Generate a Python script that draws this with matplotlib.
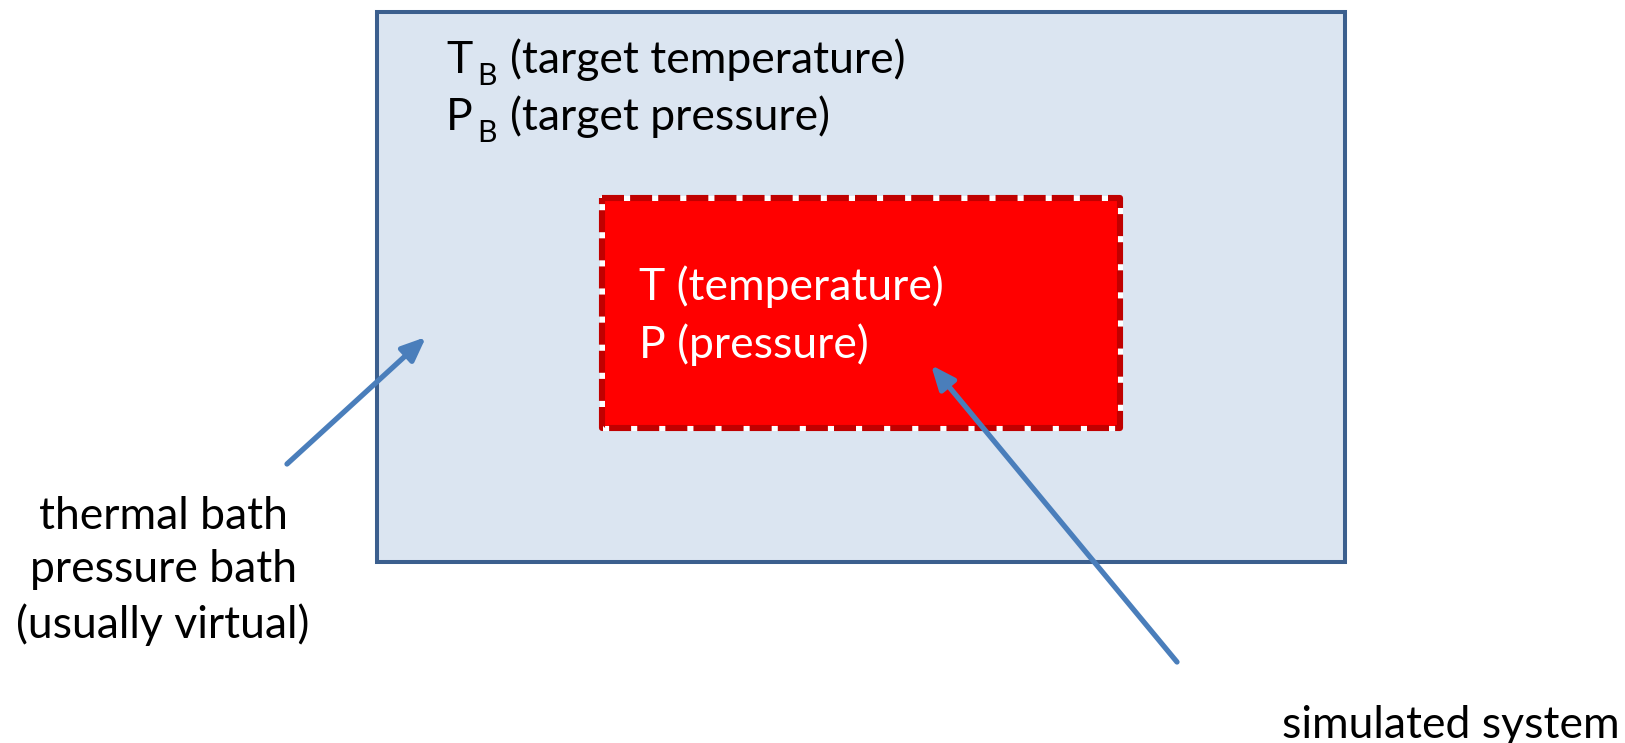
import matplotlib.pyplot as plt
from matplotlib.patches import Rectangle

plt.rcParams['font.family'] = ['Lato', 'DejaVu Sans']

# labels of the diagram
bath_symbols = ['T', 'P']
bath_names = ['(target temperature)', '(target pressure)']
bath_sub = 'B'
system_labels = ['T (temperature)', 'P (pressure)']
bath_caption = 'thermal bath\npressure bath\n(usually virtual)'
system_caption = 'simulated system'

W, H = 1625, 743
fig = plt.figure(figsize=(W / 100, H / 100), dpi=100)
ax = fig.add_axes([0, 0, 1, 1])
ax.set_xlim(0, W)
ax.set_ylim(H, 0)
ax.axis('off')

blue_edge = '#3B5F8E'
blue_fill = '#DBE5F1'
arrow_col = '#4A7EBB'

# outer bath box
ax.add_patch(Rectangle((377, 12), 968, 550, facecolor=blue_fill,
                       edgecolor=blue_edge, lw=2.9, joinstyle='miter'))

# inner system box: white under-line then dashed dark red
ax.add_patch(Rectangle((602, 198), 518, 230, facecolor='#FF0000',
                       edgecolor='white', lw=3.6, joinstyle='round'))
ax.add_patch(Rectangle((602, 198), 518, 230, facecolor='none',
                       edgecolor='#C00000', lw=4.4, joinstyle='round',
                       linestyle=(0, (3.6, 1.0))))

fs = 32
renderer = fig.canvas.get_renderer()
inv = ax.transData.inverted()


def right_edge(t):
    bb = t.get_window_extent(renderer)
    return inv.transform((bb.x1, bb.y0))[0]


# T_B / P_B lines with a dropped subscript
for i in range(2):
    y = 73 + i * 57
    t1 = ax.text(446, y, bath_symbols[i], fontsize=fs, va='baseline', ha='left')
    x = right_edge(t1) + 5
    t2 = ax.text(x, y + 12, bath_sub, fontsize=fs * 0.68, va='baseline', ha='left')
    x = right_edge(t2) + 13
    ax.text(x, y, bath_names[i], fontsize=fs, va='baseline', ha='left')

for i, s in enumerate(system_labels):
    ax.text(639, 287 + i * 58, s, fontsize=fs, color='white', va='center', ha='left')

ax.text(163, 571, bath_caption, fontsize=fs, ha='center', va='center',
        linespacing=1.36)
ax.text(1451, 725, system_caption, fontsize=fs, ha='center', va='center')

# arrows
arrow = dict(arrowstyle='-|>,head_length=0.9,head_width=0.38', lw=3.8,
             color=arrow_col, shrinkA=0, shrinkB=0, mutation_scale=16)
ax.annotate('', xy=(426, 337), xytext=(287, 464), arrowprops=arrow)
ax.annotate('', xy=(931, 365), xytext=(1177, 662), arrowprops=arrow)

fig.savefig('out.png', dpi=100)
